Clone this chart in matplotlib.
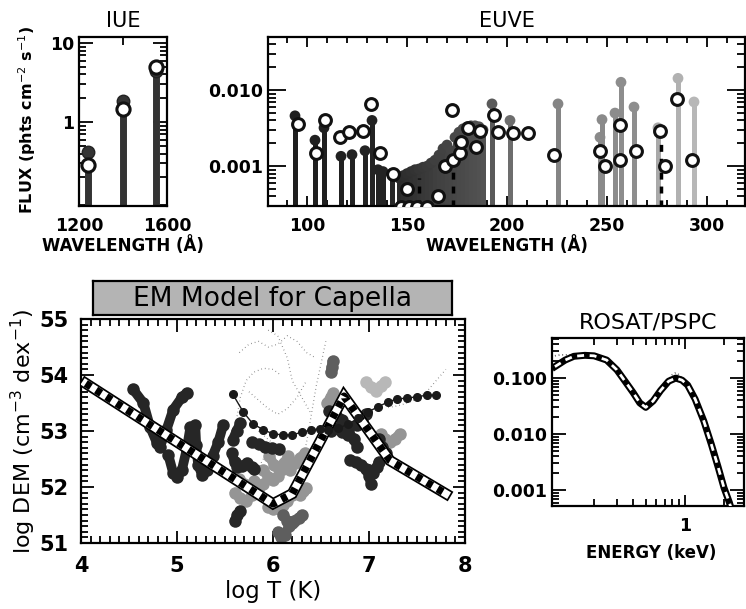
import numpy as np
import matplotlib
matplotlib.use('Agg')
import matplotlib.pyplot as plt
from matplotlib.ticker import FixedLocator, FixedFormatter, LogLocator, MultipleLocator, NullFormatter

W, H = 746, 609

# ---------------- IUE ----------------
iue_wave = [1240, 1400, 1548]
iue_obs = [0.42, 1.85, 4.4]
iue_pred = [0.29, 1.45, 5.0]

# ---------------- EUVE ----------------
euve_obs_wave = [94, 104, 108.5, 117, 122.5, 129, 132.5, 135.5, 138, 142.5,
                 146, 148, 150, 152, 154, 156, 158, 160, 162, 164, 166, 168,
                 170, 172, 174, 176, 178, 180, 182, 184, 186, 188,
                 192.5, 201.5, 225.5, 246.5, 247.5, 254, 257, 263.5,
                 275.5, 285.5, 293.5]
euve_obs_flux = [0.0046, 0.0022, 0.0032, 0.00135, 0.00142, 0.0016, 0.0040, 0.0009, 0.00085, 0.0008,
                 0.0007, 0.00075, 0.0008, 0.00085, 0.0009, 0.00092, 0.00097, 0.0010, 0.0011, 0.0012, 0.0014, 0.0017,
                 0.0019, 0.0016, 0.0024, 0.0028, 0.0031, 0.0033, 0.0034, 0.0034, 0.0033, 0.0030,
                 0.0066, 0.0040, 0.0066, 0.0024, 0.0041, 0.0050, 0.0127, 0.0060,
                 0.0032, 0.0143, 0.0070]
euve_pred_wave = [95.5, 104.5, 109, 116.5, 121, 128, 132, 136.5, 143, 150,
                  147, 151, 155, 160, 165.5, 169, 172.5, 173, 176.5, 177,
                  180.5, 184.5, 186.5, 193.5, 195.5, 203, 210.5, 223.5,
                  246.5, 249, 256.5, 256.5, 264.5, 276.5, 279, 285, 292.5]
euve_pred_flux = [0.0036, 0.0015, 0.0040, 0.0024, 0.0028, 0.0029, 0.0066, 0.0015, 0.0008, 0.0005,
                  0.00029, 0.00029, 0.00029, 0.00029, 0.0004, 0.0010, 0.0055, 0.0012, 0.0015, 0.0021,
                  0.0032, 0.0018, 0.0029, 0.0047, 0.0028, 0.0027, 0.0027, 0.0014,
                  0.0016, 0.0010, 0.0035, 0.0012, 0.0016, 0.0029, 0.0010, 0.0076, 0.0012]
euve_dash_wave = [156, 173, 277]
euve_dash_flux = [0.0007, 0.0012, 0.0029]

# ---------------- DEM ----------------
model_T = [4.05, 6.0, 6.2, 6.74, 7.22, 7.8]
model_DEM = [53.85, 51.7, 51.88, 53.62, 52.47, 51.88]

curve_T = [5.58, 5.69, 5.79, 5.90, 6.0, 6.10, 6.20, 6.30, 6.40, 6.49, 6.57, 6.68, 6.78, 6.89,
           6.99, 7.09, 7.20, 7.29, 7.40, 7.50, 7.60, 7.70]
curve_DEM = [53.66, 53.34, 53.13, 53.02, 52.95, 52.93, 52.93, 52.98, 53.02, 53.04, 53.02, 53.05, 53.12, 53.23,
             53.34, 53.43, 53.52, 53.57, 53.59, 53.61, 53.64, 53.64]

dark_loci_T = [[4.54, 4.65, 4.72, 4.79, 4.82, 4.89, 4.96, 5.05, 5.10],
               [4.91, 4.96, 5.0, 5.05, 5.1, 5.14],
               [5.19, 5.2, 5.22, 5.26, 5.31, 5.37, 5.43, 5.48],
               [5.58, 5.62, 5.66],
               [5.57, 5.6, 5.63, 5.68, 5.73, 5.78, 5.8],
               [5.78, 5.85, 5.92, 5.99, 6.06],
               [5.6, 5.63, 5.66],
               [6.58, 6.65, 6.72, 6.78, 6.84, 6.88],
               [6.6, 6.66, 6.72, 6.78],
               [6.88, 6.93, 6.97],
               [6.8, 6.86, 6.92, 6.97, 7.0, 7.02],
               [7.0, 7.04, 7.08, 7.1],
               [7.1, 7.14, 7.18]]
dark_loci_DEM = [[53.75, 53.5, 53.07, 52.79, 52.71, 53.02, 53.38, 53.6, 53.68],
                 [52.57, 52.25, 52.18, 52.3, 52.66, 53.07],
                 [53.1, 52.75, 52.4, 52.22, 52.3, 52.55, 52.8, 53.1],
                 [52.84, 53.0, 53.14],
                 [52.6, 52.45, 52.35, 52.38, 52.42, 52.35, 52.32],
                 [52.8, 52.76, 52.72, 52.69, 52.67],
                 [51.4, 51.5, 51.58],
                 [53.35, 53.3, 53.2, 53.0, 52.85, 52.72],
                 [53.0, 53.05, 52.98, 52.92],
                 [53.1, 53.2, 53.3],
                 [52.48, 52.45, 52.4, 52.32, 52.2, 52.05],
                 [52.3, 52.25, 52.35, 52.45],
                 [52.85, 52.72, 52.6]]

gray_loci_T = [[5.96, 6.01, 6.06, 6.11, 6.16],
               [5.9, 5.95, 6.0, 6.05, 6.1],
               [6.18, 6.23, 6.28, 6.33],
               [5.6, 5.66, 5.72, 5.78, 5.84, 5.9],
               [5.65, 5.7, 5.75, 5.8],
               [5.95, 6.0, 6.05, 6.1, 6.15, 6.2],
               [6.28, 6.31, 6.34],
               [7.12, 7.17, 7.22, 7.27, 7.32],
               [6.56, 6.6, 6.63]]
gray_loci_DEM = [[52.55, 52.4, 52.32, 52.42, 52.55],
                 [52.3, 52.18, 52.12, 52.2, 52.32],
                 [52.3, 52.42, 52.52, 52.6],
                 [51.9, 51.8, 51.75, 51.85, 51.95, 52.05],
                 [52.15, 52.05, 52.0, 52.1],
                 [51.65, 51.6, 51.62, 51.68, 51.75, 51.85],
                 [51.85, 51.92, 51.98],
                 [52.95, 52.85, 52.8, 52.86, 52.95],
                 [53.5, 53.6, 53.68]]

darkgray_loci_T = [[6.05, 6.08, 6.12, 6.17, 6.22, 6.27, 6.3],
                   [6.1, 6.15, 6.2],
                   [6.6, 6.61, 6.62]]
darkgray_loci_DEM = [[51.2, 51.1, 51.15, 51.3, 51.4, 51.45, 51.5],
                     [51.5, 51.4, 51.35],
                     [54.05, 54.15, 54.25]]

light_loci_T = [[6.97, 7.02, 7.07, 7.12, 7.17]]
light_loci_DEM = [[53.87, 53.78, 53.72, 53.8, 53.88]]

dot_T = [[5.62, 5.66, 5.72, 5.8, 5.9, 6.0, 6.08],
         [5.65, 5.75, 5.85, 5.95, 6.05, 6.15, 6.25, 6.35, 6.45],
         [5.75, 5.85, 5.95, 6.05, 6.15, 6.25, 6.35],
         [6.25, 6.3, 6.35, 6.4, 6.45, 6.5, 6.55],
         [5.8, 5.9, 6.0, 6.1, 6.2, 6.3],
         [7.2, 7.3, 7.4, 7.5, 7.6, 7.7, 7.8],
         [5.85, 5.95, 6.05, 6.12, 6.2],
         [5.95, 6.05, 6.15, 6.2, 6.3, 6.4]]
dot_DEM = [[53.2, 53.6, 53.9, 54.05, 54.12, 54.1, 54.0],
           [54.4, 54.55, 54.6, 54.5, 54.55, 54.7, 54.6, 54.4, 54.3],
           [53.7, 53.55, 53.4, 53.3, 53.4, 53.6, 53.9],
           [52.1, 52.4, 52.8, 53.3, 53.8, 54.2, 54.6],
           [52.2, 52.5, 52.6, 52.55, 52.3, 52.1],
           [53.42, 53.45, 53.5, 53.58, 53.7, 53.9, 54.1],
           [53.0, 52.85, 52.7, 52.5, 52.2],
           [54.8, 54.7, 54.3, 53.9, 53.6, 53.3]]

# ---------------- ROSAT ----------------
rosat_E = [0.1, 0.12, 0.14, 0.17, 0.2, 0.25, 0.3, 0.35, 0.4, 0.45, 0.5, 0.57, 0.65, 0.75,
           0.85, 0.95, 1.05, 1.2, 1.4, 1.6, 1.8, 2.0, 2.2, 2.4]
rosat_model = [0.16, 0.21, 0.245, 0.255, 0.25, 0.21, 0.14, 0.085, 0.055, 0.036, 0.030, 0.039, 0.060, 0.088,
               0.10, 0.092, 0.075, 0.042, 0.017, 0.0065, 0.0026, 0.0011, 0.0006, 0.0003]
rosat_dE = [0.1, 0.11, 0.12, 0.14, 0.17, 0.2, 0.25, 0.3, 0.4, 0.5, 0.6, 0.7, 0.8, 0.85, 0.9, 1.0,
            1.2, 1.4, 1.6, 1.8, 2.0, 2.2, 2.4]
rosat_data = [0.25, 0.26, 0.26, 0.26, 0.265, 0.26, 0.22, 0.15, 0.058, 0.029, 0.048, 0.08, 0.115, 0.125,
              0.115, 0.088, 0.045, 0.018, 0.007, 0.0028, 0.0012, 0.0006, 0.0004]


def rect(l, t, r, b):
    return [l / W, 1 - b / H, (r - l) / W, (b - t) / H]


def style_axes(ax, xmaj=6, xmin=3, ymaj=10, ymin=5):
    for s in ax.spines.values():
        s.set_linewidth(1.6)
    ax.tick_params(which='both', direction='in', top=True, right=True, width=1.3)
    ax.tick_params(axis='x', which='major', length=xmaj)
    ax.tick_params(axis='x', which='minor', length=xmin)
    ax.tick_params(axis='y', which='major', length=ymaj)
    ax.tick_params(axis='y', which='minor', length=ymin)


def bold_ticks(ax, size):
    for lab in ax.get_xticklabels() + ax.get_yticklabels():
        lab.set_fontweight('bold')
        lab.set_fontsize(size)


fig = plt.figure(figsize=(W / 100, H / 100), dpi=100)
bold = dict(fontweight='bold', family='DejaVu Sans')

# ---- IUE panel ----
ax1 = fig.add_axes(rect(79, 37, 167, 206))
ax1.set_yscale('log')
ax1.set_xlim(1200, 1600)
ax1.set_ylim(0.087, 11.9)
ax1.vlines(iue_wave, 0.01, iue_obs, colors='#333333', lw=5)
ax1.plot(iue_wave, iue_obs, 'o', color='#333333', ms=9, mec='#222222', zorder=3)
ax1.plot(iue_wave, iue_pred, 'o', mfc='white', mec='#111111', mew=2.2, ms=9.5, zorder=4)
ax1.xaxis.set_major_locator(FixedLocator([1200, 1400, 1600]))
ax1.xaxis.set_major_formatter(FixedFormatter(['1200', '', '1600']))
ax1.yaxis.set_major_locator(FixedLocator([1, 10]))
ax1.yaxis.set_major_formatter(FixedFormatter(['1', '10']))
ax1.yaxis.set_minor_locator(LogLocator(base=10, subs=np.arange(2, 10)))
ax1.yaxis.set_minor_formatter(NullFormatter())
style_axes(ax1, xmaj=6, xmin=3, ymaj=10, ymin=5)
bold_ticks(ax1, 12.5)
ax1.tick_params(axis='x', pad=8)
ax1.set_title('IUE', fontsize=15, pad=7)
fig.text(123 / W, 1 - 246 / H, 'WAVELENGTH (Å)', ha='center', va='center', fontsize=12, **bold)
fig.text(27 / W, 1 - 120 / H, 'FLUX (phts cm$^{-2}$ s$^{-1}$)', ha='center', va='center', rotation=90,
         fontsize=11.5, **bold)

# ---- EUVE panel ----
ax2 = fig.add_axes(rect(268, 37, 745, 206))
ax2.set_yscale('log')
ax2.set_xlim(80.5, 319)
ax2.set_ylim(0.0003, 0.05)
gray_levels = np.interp(euve_obs_wave, [90, 140, 165, 190, 200, 225, 265, 275, 300],
                        [0.12, 0.14, 0.25, 0.33, 0.42, 0.52, 0.56, 0.66, 0.74])
cols = [str(g) for g in gray_levels]
ax2.vlines(euve_obs_wave, 1e-5, euve_obs_flux, colors=cols, lw=3.6, zorder=2)
ax2.scatter(euve_obs_wave, euve_obs_flux, s=60, c=cols, edgecolors='none', zorder=3)
ax2.vlines(euve_dash_wave, 1e-5, euve_dash_flux, colors='black', lw=2.5, linestyles=(0, (2, 2)), zorder=3)
ax2.plot(euve_pred_wave, euve_pred_flux, 'o', mfc='white', mec='#111111', mew=2.2, ms=8.5, zorder=4)
ax2.xaxis.set_major_locator(MultipleLocator(50))
ax2.xaxis.set_minor_locator(MultipleLocator(10))
ax2.yaxis.set_major_locator(FixedLocator([0.001, 0.01]))
ax2.yaxis.set_major_formatter(FixedFormatter(['0.001', '0.010']))
ax2.yaxis.set_minor_locator(LogLocator(base=10, subs=np.arange(2, 10)))
ax2.yaxis.set_minor_formatter(NullFormatter())
style_axes(ax2, xmaj=7, xmin=4, ymaj=13, ymin=6)
bold_ticks(ax2, 12.5)
ax2.tick_params(axis='x', pad=8)
ax2.set_title('EUVE', fontsize=15, pad=7)
fig.text(507 / W, 1 - 246 / H, 'WAVELENGTH (Å)', ha='center', va='center', fontsize=12, **bold)

# ---- DEM panel ----
ax3 = fig.add_axes(rect(81, 319, 465, 543))
ax3.set_xlim(4, 8)
ax3.set_ylim(51, 55)
for T, D in zip(dot_T, dot_DEM):
    ax3.plot(T, D, ls=(0, (0.5, 2.5)), color='#666666', lw=0.9, zorder=1)
for T, D in zip(gray_loci_T, gray_loci_DEM):
    ax3.plot(T, D, '-o', color='#959595', lw=7, ms=9, mec='none', solid_capstyle='round', zorder=2)
for T, D in zip(light_loci_T, light_loci_DEM):
    ax3.plot(T, D, '-o', color='#b8b8b8', lw=7, ms=9, mec='none', solid_capstyle='round', zorder=2)
for T, D in zip(darkgray_loci_T, darkgray_loci_DEM):
    ax3.plot(T, D, '-o', color='#5e5e5e', lw=7, ms=9, mec='none', solid_capstyle='round', zorder=2)
for T, D in zip(dark_loci_T, dark_loci_DEM):
    ax3.plot(T, D, '-o', color='#262626', lw=7, ms=9, mec='none', solid_capstyle='round', zorder=3)
ax3.plot(model_T, model_DEM, '-', color='black', lw=8, zorder=4, solid_joinstyle='miter')
ax3.plot(model_T, model_DEM, '-', color='white', lw=5.5, zorder=4, solid_joinstyle='miter')
ax3.plot(model_T, model_DEM, color='black', lw=5.5, ls=(0, (0.8, 0.8)), zorder=4, dash_capstyle='butt')
ax3.plot(curve_T, curve_DEM, '-o', color='#1a1a1a', lw=1, ms=5.5, zorder=5)
ax3.xaxis.set_major_locator(MultipleLocator(1))
ax3.xaxis.set_minor_locator(MultipleLocator(0.1))
ax3.yaxis.set_major_locator(MultipleLocator(1))
ax3.yaxis.set_minor_locator(MultipleLocator(0.1))
style_axes(ax3, xmaj=9, xmin=5, ymaj=9, ymin=5)
bold_ticks(ax3, 15)
ax3.tick_params(pad=9)
ax3.set_xlabel('log T (K)', fontsize=16.5, labelpad=3)
ax3.set_ylabel('log DEM (cm$^{-3}$ dex$^{-1}$)', fontsize=16, labelpad=1)

axt = fig.add_axes(rect(93, 281, 452, 315))
axt.set_facecolor('#b4b4b4')
axt.set_xticks([])
axt.set_yticks([])
for s in axt.spines.values():
    s.set_linewidth(1.6)
axt.text(0.5, 0.47, 'EM Model for Capella', ha='center', va='center', fontsize=19, transform=axt.transAxes)

# ---- ROSAT panel ----
ax4 = fig.add_axes(rect(552, 338, 744, 506))
ax4.set_xscale('log')
ax4.set_yscale('log')
ax4.set_xlim(0.095, 2.85)
ax4.set_ylim(0.00052, 0.52)
ax4.plot(rosat_dE, rosat_data, ls=(0, (0.6, 1.6)), color='#666666', lw=1.2, zorder=2)
ax4.plot(rosat_E, rosat_model, color='black', lw=5, zorder=3)
ax4.plot(rosat_E, rosat_model, color='white', lw=2, ls=(0, (2.5, 2)), zorder=4)
ax4.xaxis.set_major_locator(FixedLocator([1]))
ax4.xaxis.set_major_formatter(FixedFormatter(['1']))
ax4.xaxis.set_minor_locator(FixedLocator([0.2, 0.3, 0.4, 0.5, 0.6, 0.7, 0.8, 0.9, 2]))
ax4.xaxis.set_minor_formatter(NullFormatter())
ax4.yaxis.set_major_locator(FixedLocator([0.001, 0.01, 0.1]))
ax4.yaxis.set_major_formatter(FixedFormatter(['0.001', '0.010', '0.100']))
ax4.yaxis.set_minor_locator(LogLocator(base=10, subs=np.arange(2, 10)))
ax4.yaxis.set_minor_formatter(NullFormatter())
style_axes(ax4, xmaj=8, xmin=5, ymaj=10, ymin=5)
bold_ticks(ax4, 12.5)
ax4.tick_params(axis='x', pad=8)
ax4.set_title('ROSAT/PSPC', fontsize=16, pad=7)
fig.text(651 / W, 1 - 553 / H, 'ENERGY (keV)', ha='center', va='center', fontsize=12, **bold)

fig.savefig('out.png', dpi=100)
